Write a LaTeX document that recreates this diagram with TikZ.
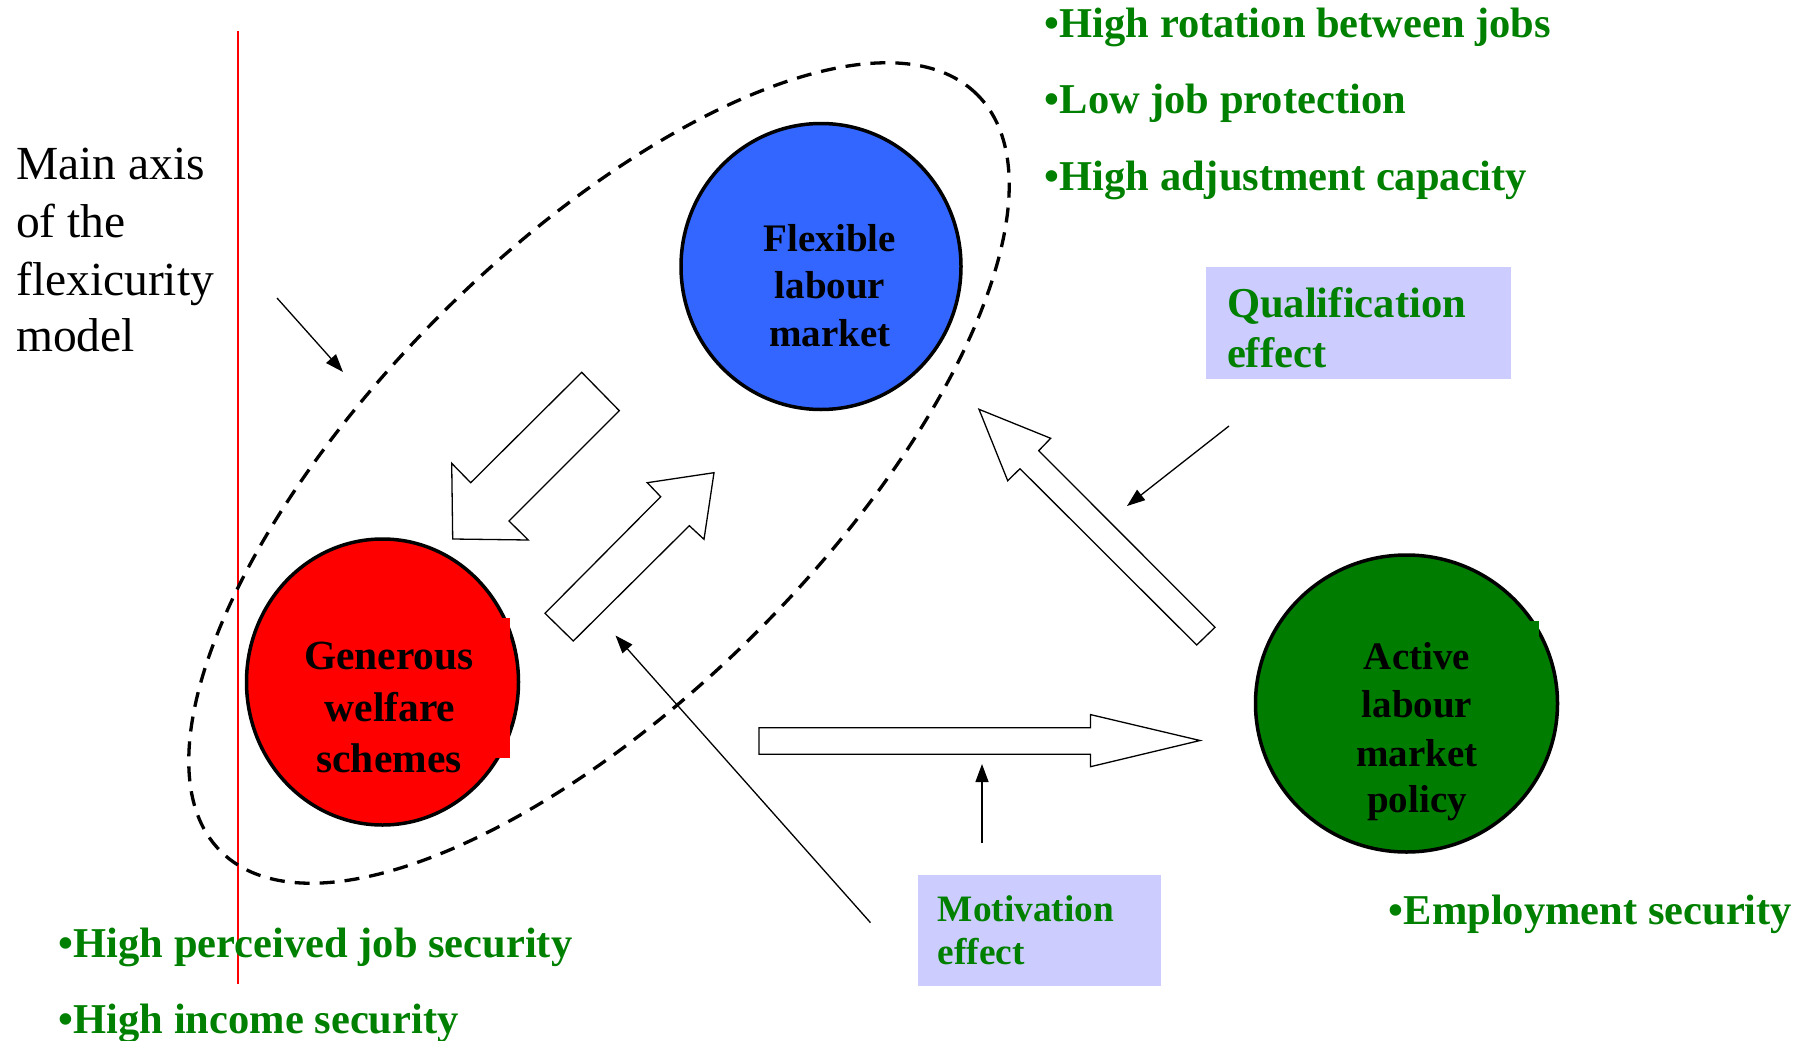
\documentclass[tikz,border=0pt]{standalone}
\usepackage{fontspec}
\setmainfont{Liberation Serif}
\usetikzlibrary{shapes.geometric,arrows.meta}
\definecolor{flexblue}{RGB}{51,102,255}
\definecolor{welfred}{RGB}{255,0,0}
\definecolor{almpgreen}{RGB}{0,125,0}
\definecolor{txtgreen}{RGB}{0,128,0}
\definecolor{effectbg}{RGB}{204,204,255}

\begin{document}
\begin{tikzpicture}[x=1pt,y=-1pt,
  pillar/.style={ellipse, draw=black, line width=3.5pt, inner sep=0pt},
  blockarrow/.style={draw=black, fill=white, line width=1.3pt, line join=miter},
  pointer/.style={draw=black, line width=1.3pt, -{Triangle[length=18pt,width=13pt]}},
  circtext/.style={anchor=base, inner sep=0pt, font=\bfseries\fontsize{#1}{#1}\selectfont},
  bullettext/.style={anchor=base west, inner sep=0pt, text=txtgreen,
    font=\bfseries\fontsize{42.5}{42.5}\selectfont},
  boxtext/.style={anchor=base west, inner sep=0pt, text=txtgreen,
    font=\bfseries\fontsize{#1}{#1}\selectfont},
  axistext/.style={anchor=base west, inner sep=0pt,
    font=\fontsize{47.5}{47.5}\selectfont},
  effectbox/.style={fill=effectbg, inner sep=0pt}
]
\useasboundingbox (0,0) rectangle (1807,1041);

% vertical red axis line
\coordinate (axtop) at (238,31);
\coordinate (axbot) at (238,984);
\draw[welfred, line width=1.5pt] (axtop) -- (axbot);

% dashed outline of the main axis
\draw[line width=3.3pt, dash pattern=on 15pt off 10pt]
  (599,473) [rotate around={45:(599,473)}] ellipse [x radius=535pt, y radius=224pt];

% the three pillars
\node[pillar, fill=flexblue, minimum width=280pt, minimum height=286pt] (flex) at (821,266.5) {};
\node[pillar, fill=welfred, minimum width=272pt, minimum height=286pt] (welf) at (382.5,682) {};
\node[pillar, fill=almpgreen, minimum width=302pt, minimum height=297pt] (almp) at (1406.5,703.5) {};

% text-box backgrounds overlapping the circle edges
\fill[welfred] (495,618) rectangle (510,758);
\fill[almpgreen] (1490,621) rectangle (1539,700);

% pillar labels
\node[circtext=39] (flex1) at (830,251) {Flexible};
\node[circtext=39] (flex2) at (830,298) {labour};
\node[circtext=39] (flex3) at (830,346) {market};

\node[circtext=41.5] (welf1) at (389,669) {Generous};
\node[circtext=41.5] (welf2) at (390,721) {welfare};
\node[circtext=41.5] (welf3) at (389,772) {schemes};

\node[circtext=39] (almp1) at (1417,669) {Active};
\node[circtext=39] (almp2) at (1417,717) {labour};
\node[circtext=39] (almp3) at (1417,766) {market};
\node[circtext=39] (almp4) at (1417,812) {policy};

% caption of the main axis
\node[axistext] (ax1) at (16,179) {Main axis};
\node[axistext] (ax2) at (16,237) {of the};
\node[axistext] (ax3) at (16,295) {flexicurity};
\node[axistext] (ax4) at (16,351) {model};

% characteristics
\node[bullettext] (fl1) at (1044.6,38) {•High rotation between jobs};
\node[bullettext] (fl2) at (1044.6,113) {•Low job protection};
\node[bullettext] (fl3) at (1044.6,190) {•High adjustment capacity};
\node[bullettext] (we1) at (58.7,957) {•High perceived job security};
\node[bullettext] (we2) at (58.7,1033) {•High income security};
\node[bullettext] (al1) at (1388.7,924.4) {•Employment security};

% effect boxes
\node[effectbox, minimum width=305pt, minimum height=112pt] (qbox) at (1358.5,323) {};
\node[boxtext=42.6] (q1) at (1226.8,317.6) {Qualification};
\node[boxtext=42.6] (q2) at (1226.8,367) {effect};

\node[effectbox, minimum width=243pt, minimum height=111pt] (mbox) at (1039.5,930.5) {};
\node[boxtext=37.3] (m1) at (937.6,921) {Motivation};
\node[boxtext=37.3] (m2) at (937.6,964) {effect};

% block arrows between the pillars
\draw[blockarrow] (581.7,372.3) -- (619.3,410.7) -- (509,521) -- (528.3,540)
  -- (452.7,539) -- (451.7,463.3) -- (470.7,482.7) -- cycle;
\draw[blockarrow] (714,472.7) -- (704,539.3) -- (689.3,525.7) -- (573.3,641)
  -- (545,613.3) -- (660.7,496.7) -- (647.3,482.7) -- cycle;
\draw[blockarrow] (979,409.3) -- (1050.7,438.3) -- (1038.7,450.7) -- (1215,627.3)
  -- (1196.7,645) -- (1020,468.7) -- (1007.7,480.7) -- cycle;
\draw[blockarrow] (759,727.7) -- (1090.5,727.7) -- (1090.5,714.6) -- (1200,740.5)
  -- (1090.5,766.7) -- (1090.5,754.3) -- (759,754.3) -- cycle;

% thin pointers
\coordinate (axfrom) at (277,298);
\coordinate (axto) at (343,372);
\draw[pointer] (axfrom) -- (axto);

\coordinate (qfrom) at (1229,426);
\coordinate (qto) at (1127,506);
\draw[pointer] (qfrom) -- (qto);

\coordinate (mfromA) at (982,843);
\coordinate (mtoA) at (982,764);
\draw[pointer] (mfromA) -- (mtoA);

\coordinate (mfromB) at (870.5,922.7);
\coordinate (mtoB) at (615.5,635.5);
\draw[pointer] (mfromB) -- (mtoB);
\end{tikzpicture}
\end{document}
